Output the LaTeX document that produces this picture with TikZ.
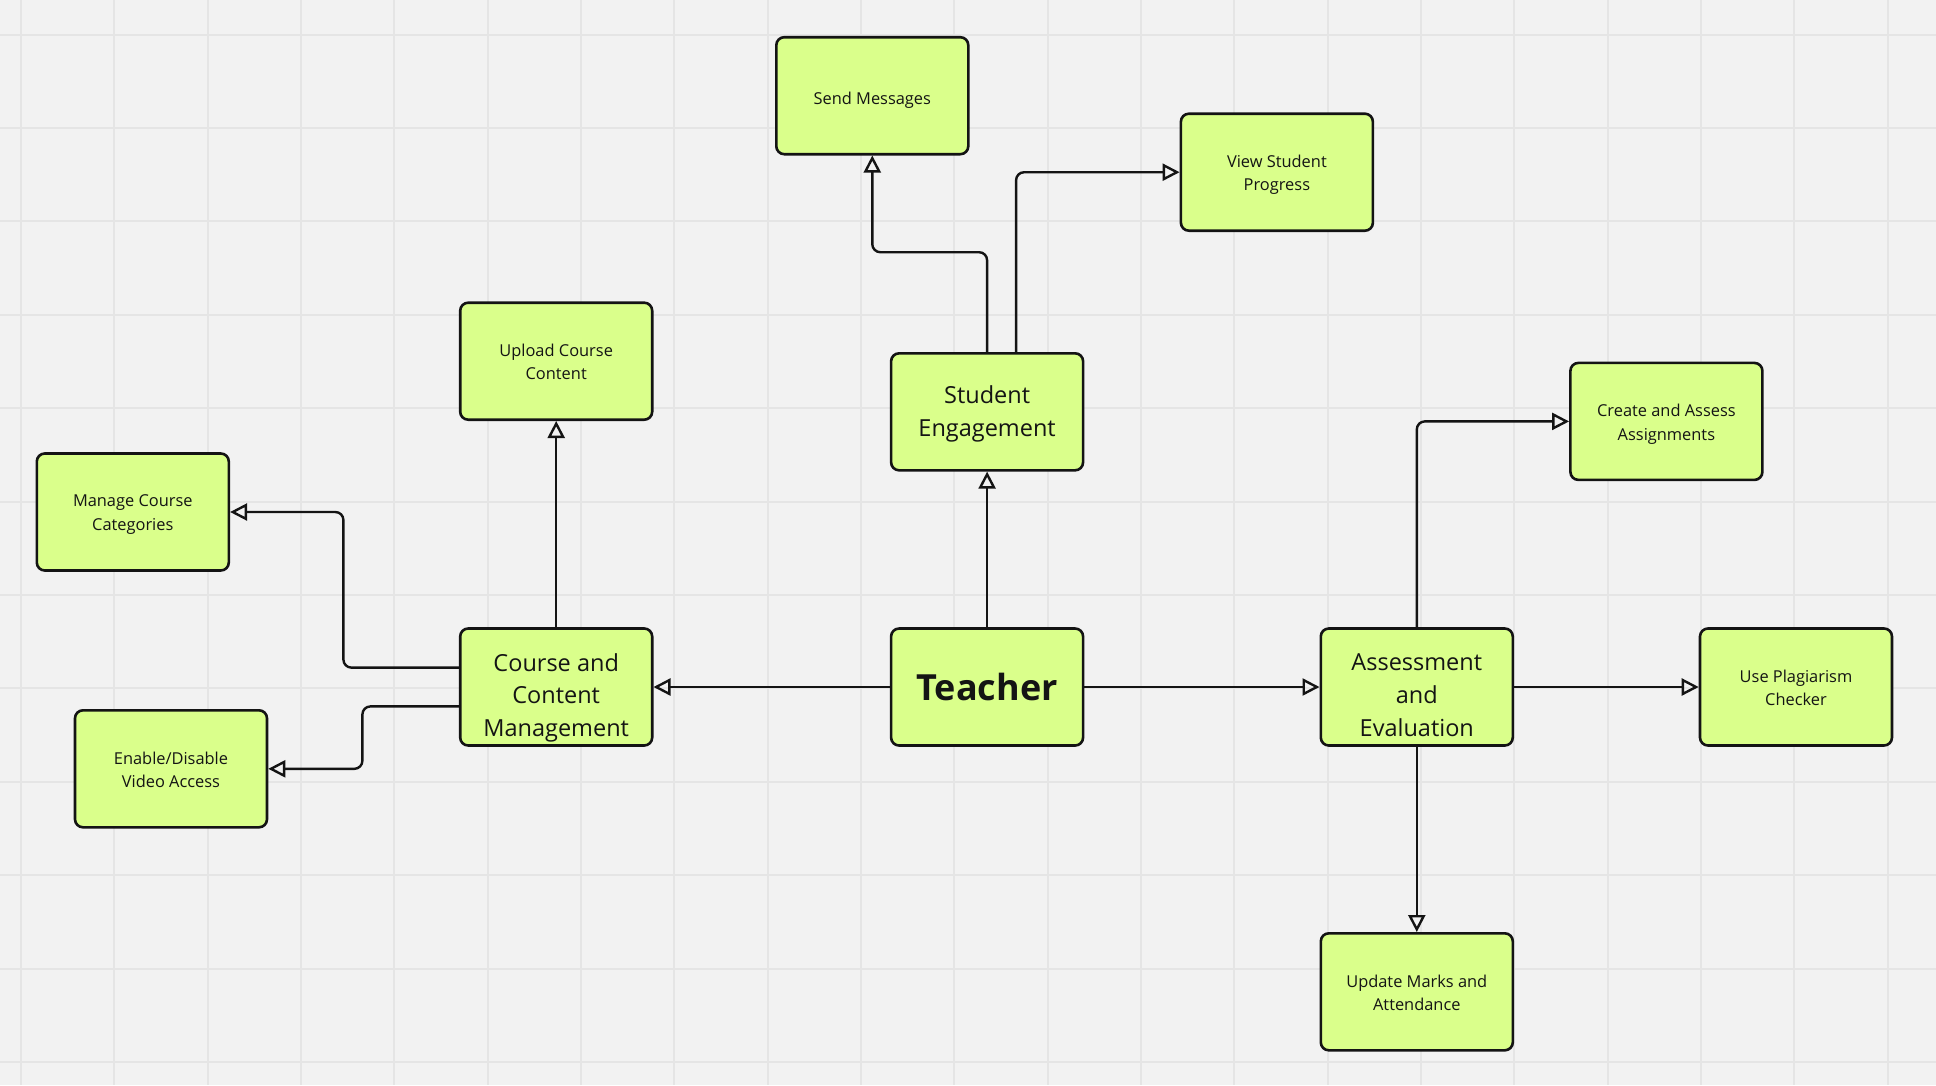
\documentclass[tikz,border=0pt]{standalone}
\usepackage{fontspec}
\setmainfont{Open Sans}
\usetikzlibrary{arrows.meta}
\definecolor{bgc}{RGB}{242,242,242}
\definecolor{gridc}{RGB}{229,229,229}
\definecolor{boxc}{RGB}{218,255,139}
\definecolor{inkc}{RGB}{20,20,20}
\tikzset{
  box/.style={draw=inkc, line width=2.6pt, fill=boxc, rounded corners=8pt,
    minimum width=192pt, minimum height=117pt, inner sep=0pt},
  tx/.style={align=center, inner sep=0pt, text=inkc, yshift=-4.3pt,
    execute at begin node={\strut}, execute at end node={\strut}},
  txs/.style={tx, font=\fontsize{16.4}{23.5}\selectfont},
  txb/.style={tx, font=\fontsize{23.5}{32.6}\selectfont},
  txt/.style={inner sep=0pt, text=inkc, font=\fontsize{36}{42}\selectfont\bfseries},
  conn/.style={draw=inkc, line width=2.4pt, rounded corners=8pt,
    -{Triangle[open, length=17pt, width=17pt, line width=2.4pt]}},
}
\begin{document}
\begin{tikzpicture}[x=1pt, y=-1pt]
\useasboundingbox (0,0) rectangle (1936,1085);
\fill[bgc] (0,0) rectangle (1936,1085);
\foreach \k in {0,...,20} \draw[gridc, line width=2pt] ({21+93.33*\k},0) -- ({21+93.33*\k},1085);
\foreach \k in {0,...,11} \draw[gridc, line width=2pt] (0,{34.6+93.4*\k}) -- (1936,{34.6+93.4*\k});

\node[box] (SM) at (872.3,95.7) {};
\node[txs] (SMt) at (SM.center) {Send Messages};
\node[box] (VSP) at (1276.9,172.2) {};
\node[txs] (VSPt) at (VSP.center) {View Student\\Progress};
\node[box] (UCC) at (556.2,361.2) {};
\node[txs] (UCCt) at (UCC.center) {Upload Course\\Content};
\node[box] (SE) at (987.1,411.8) {};
\node[txb] (SEt) at (SE.center) {Student\\Engagement};
\node[box] (CA) at (1666.4,421.4) {};
\node[txs] (CAt) at (CA.center) {Create and Assess\\Assignments};
\node[box] (MC) at (132.8,512.0) {};
\node[txs] (MCt) at (MC.center) {Manage Course\\Categories};
\node[box] (CCM) at (556.2,687.0) {};
\node[txb] (CCMt) at ([yshift=-8.6pt]CCM.center) {Course and\\Content\\Management};
\node[box] (T) at (987.1,687.0) {};
\node[txt] (Tt) at (T.center) {Teacher};
\node[box] (AE) at (1416.8,687.0) {};
\node[txb] (AEt) at ([yshift=-8.6pt]AE.center) {Assessment\\and\\Evaluation};
\node[box] (PC) at (1796.0,687.0) {};
\node[txs] (PCt) at (PC.center) {Use Plagiarism\\Checker};
\node[box] (EV) at (171.0,768.8) {};
\node[txs] (EVt) at (EV.center) {Enable/Disable\\Video Access};
\node[box] (UM) at (1416.8,991.8) {};
\node[txs] (UMt) at (UM.center) {Update Marks and\\Attendance};

\draw[conn] (T.north) -- (SE.south);
\draw[conn] (T.west) -- (CCM.east);
\draw[conn] (T.east) -- (AE.west);
\draw[conn] (SE.north) -- ++(0,-99.8) -| (SM.south);
\draw[conn] ([xshift=29pt]SE.north) |- (VSP.west);
\draw[conn] (CCM.north) -- (UCC.south);
\draw[conn] ([yshift=19.4pt]CCM.west) -- ++(-115.5,0) |- (MC.east);
\draw[conn] ([yshift=-19.4pt]CCM.west) -- ++(-96.5,0) |- (EV.east);
\draw[conn] (AE.north) |- (CA.west);
\draw[conn] (AE.east) -- (PC.west);
\draw[conn] (AE.south) -- (UM.north);
\end{tikzpicture}
\end{document}
